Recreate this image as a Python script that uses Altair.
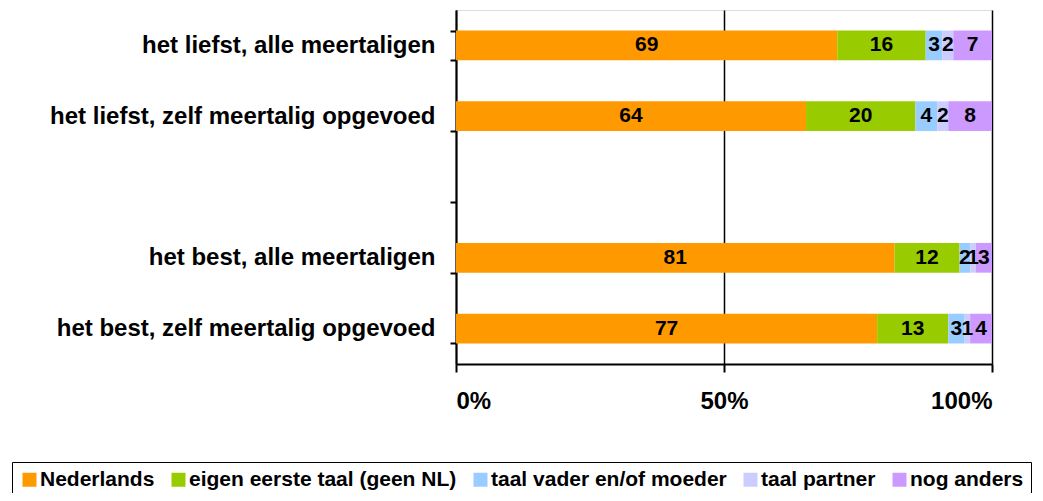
import altair as alt
import pandas as pd

categories = ["het liefst, alle meertaligen", "het liefst, zelf meertalig opgevoed",
              "het best, alle meertaligen", "het best, zelf meertalig opgevoed"]
y_domain = [categories[0], categories[1], " ", categories[2], categories[3]]
series = ["Nederlands", "eigen eerste taal (geen NL)", "taal vader en/of moeder",
          "taal partner", "nog anders"]
colors = ["#FF9900", "#99CC00", "#99CCFF", "#CCCCFF", "#CC99FF"]

nederlands = [69, 64, 81, 77]
eigen = [16, 20, 12, 13]
vader = [3, 4, 2, 3]
partner = [2, 2, 1, 1]
anders = [7, 8, 3, 4]

rows = []
for si, (s, vals) in enumerate(zip(series, [nederlands, eigen, vader, partner, anders])):
    for c, v in zip(categories, vals):
        rows.append({"cat": c, "series": s, "order": si, "value": v})
df = pd.DataFrame(rows)

FONT = "Liberation Sans"

base = alt.Chart(df).transform_stack(
    stack="value", groupby=["cat"], as_=["x0", "x1"],
    sort=[alt.SortField("order", order="ascending")], offset="normalize"
).transform_calculate(mid="(datum.x0 + datum.x1) / 2")

y_enc = alt.Y("cat:N", scale=alt.Scale(domain=y_domain, paddingInner=0.58, paddingOuter=0.29),
              axis=alt.Axis(title=None, tickBand="extent", labelFont=FONT, labelFontSize=24,
                            labelFontWeight="bold", labelColor="black", labelPadding=15,
                            tickSize=6, tickColor="black", tickWidth=2, domainColor="black",
                            domainWidth=2, grid=False, labelLimit=600))

bars = base.mark_bar(stroke=None).encode(
    x=alt.X("x0:Q", scale=alt.Scale(domain=[0, 1]),
            axis=alt.Axis(title=None, values=[0, 0.5, 1], format="%", labelFont=FONT,
                          labelFontSize=24, labelFontWeight="bold", labelColor="black",
                          labelPadding=17, tickSize=8, tickColor="black", tickWidth=2,
                          domainColor="black", domainWidth=2, grid=True, gridColor="black",
                          gridWidth=1.5, gridOpacity=1)),
    x2="x1:Q",
    y=y_enc,
    color=alt.Color("series:N", scale=alt.Scale(domain=series, range=colors),
                    legend=alt.Legend(title=None, orient="none", direction="horizontal",
                                      legendX=-444, legendY=452, strokeColor="black",
                                      padding=7, symbolType="square", symbolSize=196,
                                      symbolStrokeWidth=0, labelFont=FONT, labelFontSize=21,
                                      labelFontWeight="bold", labelColor="black",
                                      labelOffset=0, columnPadding=13, labelLimit=400)),
)

texts = base.mark_text(font=FONT, fontSize=21, fontWeight="bold", color="black",
                       align="center", baseline="middle").encode(
    x=alt.X("mid:Q"),
    y=alt.Y("cat:N", scale=alt.Scale(domain=y_domain, paddingInner=0.58, paddingOuter=0.29)),
    text=alt.Text("value:Q"),
)

chart = alt.layer(bars, texts).properties(
    width=536, height=354,
    autosize=alt.AutoSizeParams(type="none"),
    padding={"left": 448, "top": 2, "right": 42, "bottom": 129},
).configure_view(stroke="black", strokeWidth=2).configure(background="white")

chart.save("out.html", embed_options={"renderer": "svg", "actions": False})
